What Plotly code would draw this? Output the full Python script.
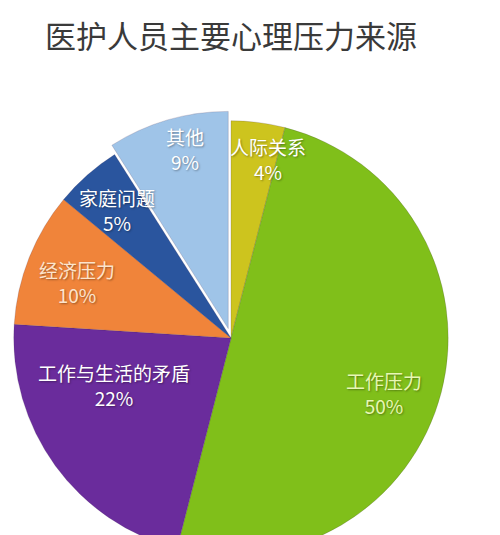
import math
import plotly.graph_objects as go

title = "医护人员主要心理压力来源"
labels = ["人际关系", "工作压力", "工作与生活的矛盾", "经济压力", "家庭问题", "其他"]
values = [4, 50, 22, 10, 5, 9]

# styling (kept apart from the data)
colors = ["#cdc41e", "#80bf1a", "#6a2c9c", "#f0843a", "#2a559e", "#9fc4e8"]
text_colors = ["#ffffff", "#e8f7b4", "#ffffff", "#fde4cc", "#ffffff", "#ffffff"]
pulls = [0, 0, 0, 0, 0, 0.045]
# label placement: radial fraction and angular nudge (deg) from slice middle
label_rf = [0.842, 0.748, 0.58, 0.754, 0.79, 0.895]
label_da = [4.5, 5.5, 14.0, -1.5, -0.3, 2.4]

W, H = 500, 565
L, R, T, B = 4, 42, 111, 0
pw, ph = W - L - R, H - T - B
radius_frac = 0.5 / (1 + max(pulls))  # pie radius as fraction of plot size

fig = go.Figure(go.Pie(
    labels=labels,
    values=values,
    sort=False,
    direction="clockwise",
    rotation=0,
    pull=pulls,
    marker=dict(colors=colors, line=dict(color="rgba(60,40,80,0.3)", width=0.6)),
    textinfo="none",
    showlegend=False,
    hoverinfo="label+value",
))

total = sum(values)
cum = 0
annotations = []
for i, (lab, v) in enumerate(zip(labels, values)):
    mid = (cum + v / 2) / total * 360 + label_da[i]
    cum += v
    r = label_rf[i] * radius_frac
    x = 0.5 + r * math.sin(math.radians(mid)) * min(pw, ph) / pw
    y = 0.5 + r * math.cos(math.radians(mid)) * min(pw, ph) / ph
    annotations.append(dict(
        x=x, y=y, xref="paper", yref="paper",
        text=f"{lab}<br>{v}%", showarrow=False,
        xanchor="center", yanchor="middle",
        font=dict(family="Noto Sans CJK SC", size=19, color=text_colors[i],
                  shadow="1px 1px 2px rgba(0,0,0,0.35)"),
    ))

fig.update_layout(
    width=W, height=H,
    margin=dict(l=L, r=R, t=T, b=B),
    paper_bgcolor="white",
    plot_bgcolor="white",
    annotations=annotations,
    title=dict(text=title, x=231 / W, xref="container", xanchor="center",
               y=1 - 37 / H, yref="container", yanchor="middle",
               font=dict(family="Noto Sans CJK SC", size=31, color="#3a3a3a")),
)

fig.write_html(
    "out.html",
    config={"displayModeBar": False},
    post_script="document.documentElement.style.overflow='hidden';"
                "document.body.style.overflow='hidden';"
                "document.body.style.margin='0';",
)
